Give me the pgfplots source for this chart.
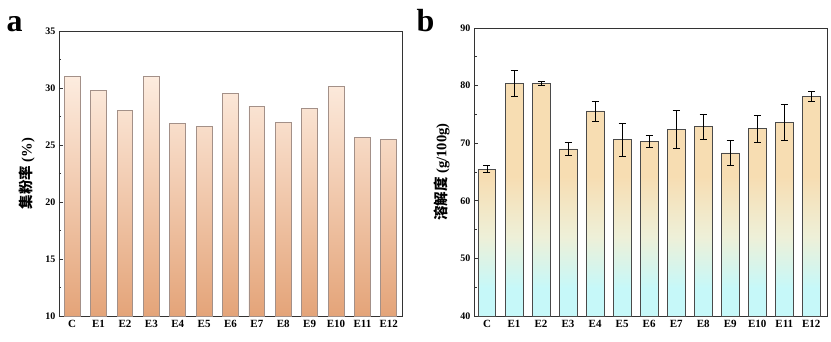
\documentclass[border=0pt]{standalone}
\usepackage{fontspec}
\setmainfont{Liberation Serif}
\newfontfamily\cjk{Noto Sans CJK SC}
\usepackage{pgfplots}
\usepackage{pgfplotstable}
\pgfplotsset{compat=1.18}

\definecolor{aTop}{HTML}{FDECDF}
\definecolor{aBot}{HTML}{E4A479}
\definecolor{aEdge}{HTML}{A39088}
\definecolor{bTop}{HTML}{F7DDB2}
\definecolor{bMid}{HTML}{EEF0D8}
\definecolor{bBot}{HTML}{C6F8F9}
\definecolor{bEdge}{HTML}{4A4A4A}

\pgfdeclareverticalshading{barB}{100bp}{%
  color(0bp)=(bBot); color(25bp)=(bBot); color(31bp)=(bBot);
  color(42bp)=(bMid); color(55bp)=(bTop); color(75bp)=(bTop); color(100bp)=(bTop)}

\pgfplotstableread{
x v
0 31.0
1 29.8
2 28.0
3 31.05
4 26.9
5 26.6
6 29.5
7 28.4
8 27.0
9 28.2
10 30.1
11 25.7
12 25.5
}\dataA

\pgfplotstableread{
x v e
0 65.5 0.6
1 80.4 2.3
2 80.4 0.35
3 69.0 1.1
4 75.6 1.75
5 70.6 2.9
6 70.3 1.1
7 72.4 3.3
8 72.9 2.15
9 68.3 2.15
10 72.5 2.4
11 73.6 3.1
12 78.1 0.9
}\dataB

\pgfplotsset{
  panel/.style={
    scale only axis,
    axis line style={draw=black!80, line width=0.8pt},
    tick align=inside,
    xtick pos=bottom, ytick pos=left,
    tick style={black!80, line width=0.7pt},
    major tick length=4pt, minor tick length=2.5pt,
    xtick={0,...,12},
    xticklabels={C,E1,E2,E3,E4,E5,E6,E7,E8,E9,E10,E11,E12},
    xticklabel style={font=\bfseries\fontsize{11}{11}\selectfont, yshift=-1pt},
    yticklabel style={font=\bfseries\fontsize{10}{10}\selectfont},
    /pgf/number format/assume math mode=true,
    minor y tick num=1,
    ylabel style={font=\bfseries\fontsize{14.5}{14.5}\selectfont, yshift=4pt},
  },
  overlay/.style={
    scale only axis, hide axis,
  },
}

\begin{document}
\begin{tikzpicture}
\useasboundingbox (0,0) rectangle (831pt,341pt);

% ---------- panel a ----------
\begin{axis}[panel,
  at={(59pt,25pt)}, anchor=south west,
  width=343pt, height=285pt,
  xmin=-0.5, xmax=12.5, ymin=10, ymax=35,
  ytick={10,15,20,25,30,35},
  ybar stacked, bar width=0.6,
  ylabel={{\cjk\bfseries 集粉率} (\%)},
]
\addplot[draw=none, fill=none] table[x=x, y expr=10]{\dataA};
\addplot[draw=aEdge, line width=0.8pt, top color=aTop, bottom color=aBot]
  table[x=x, y expr=\thisrow{v}-10]{\dataA};
\end{axis}

% ---------- panel b ----------
\begin{axis}[panel,
  at={(474pt,25pt)}, anchor=south west,
  width=353pt, height=288pt,
  xmin=-0.48, xmax=12.58, ymin=40, ymax=90,
  ytick={40,50,60,70,80,90},
  ybar stacked, bar width=0.66,
  ylabel={{\cjk\bfseries 溶解度} (g/100g)},
]
\addplot[draw=none, fill=none] table[x=x, y expr=40]{\dataB};
\addplot[draw=bEdge, line width=0.8pt, shading=barB]
  table[x=x, y expr=\thisrow{v}-40]{\dataB};
\end{axis}
\begin{axis}[overlay,
  at={(474pt,25pt)}, anchor=south west,
  width=353pt, height=288pt,
  xmin=-0.48, xmax=12.58, ymin=40, ymax=90,
]
\addplot[draw=none, mark=none,
  error bars/.cd, y dir=both, y explicit,
  error bar style={black, line width=0.7pt},
  error mark options={rotate=90, mark size=3.5pt, black, line width=0.7pt}]
  table[x=x, y=v, y error=e]{\dataB};
\end{axis}

\node[font=\bfseries\fontsize{32}{32}\selectfont, anchor=base west] at (3pt,309pt) {a};
\node[font=\bfseries\fontsize{32}{32}\selectfont, anchor=base west] at (413pt,309pt) {b};
\end{tikzpicture}
\end{document}
